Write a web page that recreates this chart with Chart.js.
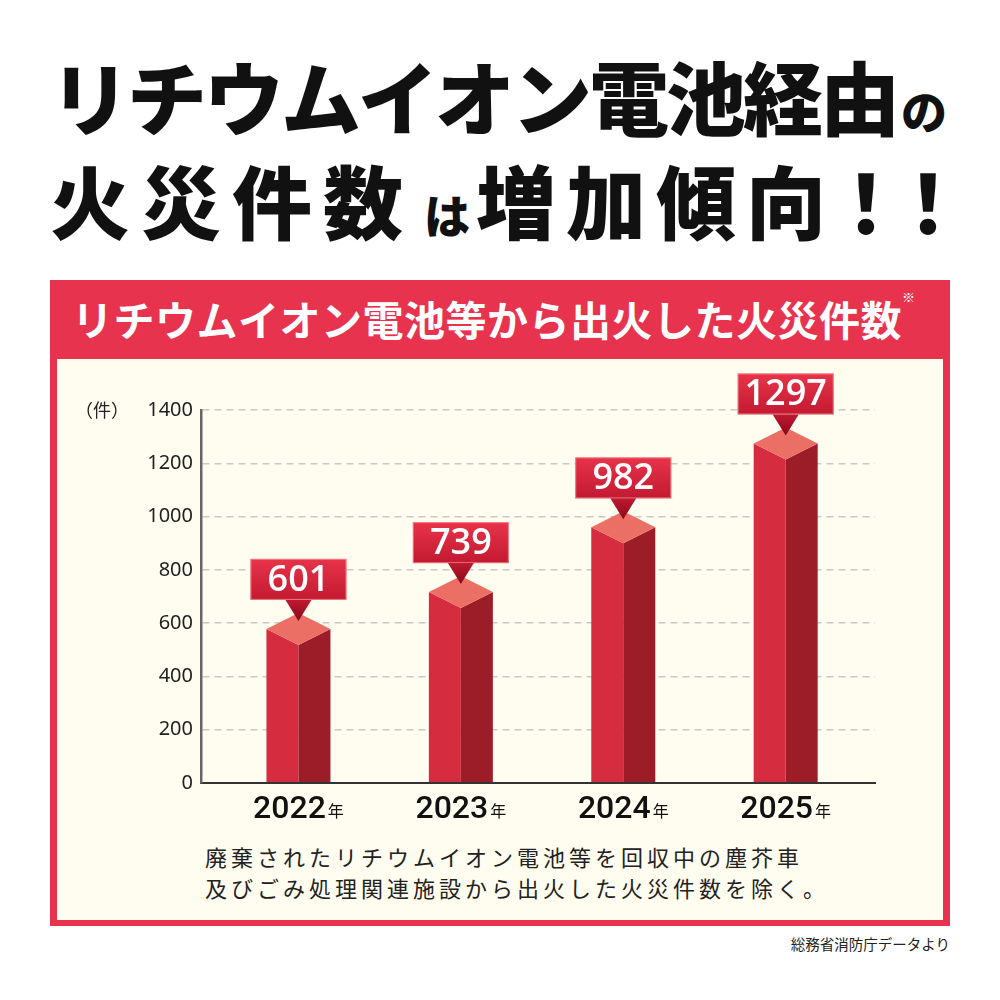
<!DOCTYPE html>
<html lang="ja">
<head>
<meta charset="utf-8">
<script src="https://cdn.jsdelivr.net/npm/chart.js@4.4.1/dist/chart.umd.min.js"></script>
<style>
  body { margin: 0; background: #fff; font-family: "Noto Sans CJK JP", sans-serif; }
  #page { position: relative; width: 1000px; height: 1000px; overflow: hidden; }
  .title { position: absolute; left: 50px; white-space: nowrap; line-height: 1; font-weight: 900; color: #111; }
  #t1 { top: 54px; }
  #t2 { top: 158px; }
  .big { font-size: 80px; }
  .small { font-size: 46px; }
  #panel { position: absolute; left: 50px; top: 280px; width: 900px; height: 646px; background: #e8334f; }
  #head { position: absolute; left: 22px; top: 16px; color: #fff; font-size: 41px; font-weight: 700; letter-spacing: 0.5px; white-space: nowrap; line-height: 1.1; }
  #head sup { font-size: 13px; font-weight: 400; vertical-align: top; position: relative; top: -6px; }
  #inner { position: absolute; left: 7px; top: 79px; width: 886px; height: 561px; background: #fffdf0; }
  #chart { position: absolute; left: 0; top: 0; }
  #note { position: absolute; left: 148px; top: 482px; font-size: 22px; letter-spacing: 4px; line-height: 31px; color: #222; white-space: nowrap; }
  #src { position: absolute; right: 50px; top: 933px; font-size: 14.5px; color: #222; white-space: nowrap; }
</style>
</head>
<body>
<div id="page">
  <div class="title" id="t1"><span class="big" style="letter-spacing:-3px">リチウムイオン電池経由</span><span class="small" style="margin-left:4px">の</span></div>
  <div class="title" id="t2"><span class="big" style="letter-spacing:11px">火災件数</span><span class="small" style="margin:0 6px 0 10px">は</span><span class="big" style="letter-spacing:10px">増加傾向</span><span class="big" style="letter-spacing:-18px; margin-left:-10px">！！</span></div>
  <div id="panel">
    <div id="head">リチウムイオン電池等から出火した火災件数<sup>※</sup></div>
    <div id="inner">
      <canvas id="chart" width="886" height="480"></canvas>
      <div id="note">廃棄されたリチウムイオン電池等を回収中の塵芥車<br>及びごみ処理関連施設から出火した火災件数を除く。</div>
    </div>
  </div>
  <div id="src">総務省消防庁データより</div>
</div>
<script>
// data
const years = [2022, 2023, 2024, 2025];
const yearSuffix = "年";
const fireCounts = [601, 739, 982, 1297];
const yTicks = [0, 200, 400, 600, 800, 1000, 1200, 1400];
const unitLabel = "（件）";

const ctx = document.getElementById("chart").getContext("2d");

// 3D bars, callouts and year labels drawn on top of the invisible bars
const bar3d = {
  id: "bar3d",
  afterDatasetsDraw(chart) {
    const c = chart.ctx;
    const yScale = chart.scales.y;
    const base = yScale.getPixelForValue(0) - 1;
    const meta = chart.getDatasetMeta(0);

    meta.data.forEach((bar, i) => {
      const cx = bar.x;
      const half = bar.width / 2;
      const cy = bar.y + 6;
      const dh = 16;

      c.save();
      // front left face
      c.fillStyle = "#d62c40";
      c.beginPath();
      c.moveTo(cx - half, cy);
      c.lineTo(cx, cy + dh);
      c.lineTo(cx, base);
      c.lineTo(cx - half, base);
      c.closePath();
      c.fill();
      // right face
      c.fillStyle = "#9c1c28";
      c.beginPath();
      c.moveTo(cx, cy + dh);
      c.lineTo(cx + half, cy);
      c.lineTo(cx + half, base);
      c.lineTo(cx, base);
      c.closePath();
      c.fill();
      // top
      c.fillStyle = "#ec6f65";
      c.beginPath();
      c.moveTo(cx, cy - dh);
      c.lineTo(cx + half, cy);
      c.lineTo(cx, cy + dh);
      c.lineTo(cx - half, cy);
      c.closePath();
      c.fill();

      // callout
      const tipY = cy - 8;
      const boxB = tipY - 21;
      const boxT = boxB - 41;
      const bw = 96;
      let g = c.createLinearGradient(0, boxT, 0, boxB);
      g.addColorStop(0, "#e8334a");
      g.addColorStop(1, "#c21a31");
      c.fillStyle = g;
      c.fillRect(cx - bw / 2, boxT, bw, boxB - boxT);
      c.strokeStyle = "rgba(255,170,170,0.6)";
      c.lineWidth = 1;
      c.strokeRect(cx - bw / 2 + 0.5, boxT + 0.5, bw - 1, boxB - boxT - 1);
      g = c.createLinearGradient(0, boxB, 0, tipY);
      g.addColorStop(0, "#c01a30");
      g.addColorStop(1, "#860818");
      c.fillStyle = g;
      c.beginPath();
      c.moveTo(cx - 13, boxB);
      c.lineTo(cx + 13, boxB);
      c.lineTo(cx, tipY);
      c.closePath();
      c.fill();

      c.fillStyle = "#fff";
      c.font = "600 36px 'Open Sans'";
      c.textAlign = "center";
      c.textBaseline = "middle";
      c.fillText(String(fireCounts[i]), cx, (boxT + boxB) / 2 + 1);

      // year label
      c.fillStyle = "#111";
      c.textBaseline = "alphabetic";
      c.textAlign = "left";
      c.font = "500 32px Roboto";
      const w1 = c.measureText(String(years[i])).width;
      c.font = "16px 'Noto Sans CJK JP'";
      const w2 = c.measureText(yearSuffix).width;
      const x0 = cx - (w1 + 2 + w2) / 2;
      c.font = "500 32px Roboto";
      c.fillText(String(years[i]), x0, base + 36);
      c.font = "16px 'Noto Sans CJK JP'";
      c.fillText(yearSuffix, x0 + w1 + 2, base + 35);
      c.restore();
    });

    // unit label
    c.save();
    c.fillStyle = "#222";
    c.font = "18px 'Noto Sans CJK JP'";
    c.textAlign = "left";
    c.textBaseline = "middle";
    c.fillText(unitLabel, 18, yScale.getPixelForValue(1400));
    c.restore();
  }
};

new Chart(ctx, {
  type: "bar",
  data: {
    datasets: [
      {
        data: years.map((yr, i) => ({ x: yr, y: fireCounts[i] })),
        backgroundColor: "rgba(0,0,0,0)",
        barThickness: 64,
      },
    ],
  },
  options: {
    responsive: false,
    animation: false,
    events: [],
    layout: { padding: { left: 0, right: 68, top: 51, bottom: 56 } },
    plugins: { legend: { display: false }, tooltip: { enabled: false } },
    scales: {
      x: {
        type: "linear",
        offset: false,
        min: 2021.4,
        max: 2025.55,
        ticks: { display: false },
        grid: { display: false },
        border: { color: "#333", width: 2 },
        afterFit: (s) => { s.height = 0; },
      },
      y: {
        min: 0,
        max: 1400,
        afterBuildTicks: (s) => { s.ticks = yTicks.map((v) => ({ value: v })); },
        ticks: {
          color: "#222",
          font: { family: "'Noto Sans'", size: 20 },
          padding: 8,
          callback: (v) => String(v),
        },
        grid: {
          color: (c) => (c.tick.value === 0 ? "rgba(0,0,0,0)" : "#c8c8c8"),
          lineWidth: 1.5,
          drawTicks: false,
        },
        border: { color: "#666", width: 2.5, dash: [7, 5] },
        afterFit: (s) => { s.width = 144; },
      },
    },
  },
  plugins: [bar3d],
});
</script>
</body>
</html>
